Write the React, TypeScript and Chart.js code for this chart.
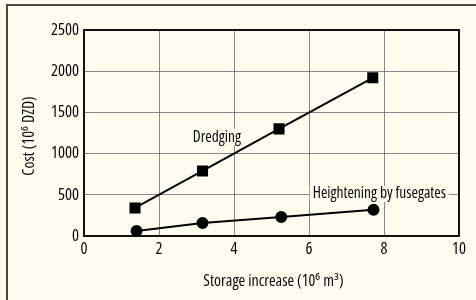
import React, { useEffect, useRef } from "react";
import { Chart, registerables } from "chart.js";

Chart.register(...registerables);

const storageDredging = [1.36, 3.16, 5.2, 7.7];
const costDredging = [340, 790, 1300, 1920];
const storageFusegates = [1.4, 3.16, 5.26, 7.72];
const costFusegates = [60, 158, 232, 318];
const xTicks = [0, 2, 4, 6, 8, 10];
const yTicks = [0, 500, 1000, 1500, 2000, 2500];
const seriesLabels = ["Dredging", "Heightening by fusegates"];
const labelAnchors = [
  { x: 2.9, y: 1200 },
  { x: 6.1, y: 510 },
];
const xTitle = "Storage increase (10⁶ m³)";
const yTitle = "Cost (10⁶ DZD)";

const FONT = '"Open Sans", sans-serif';
const BG = "#fffbef";
const INK = "#0a0a0a";

const framePlugin = {
  id: "frame",
  beforeDraw(chart: any) {
    const { ctx, width, height } = chart;
    ctx.fontStretch = "condensed";
    ctx.save();
    ctx.fillStyle = BG;
    ctx.fillRect(0, 0, width, height);
    ctx.strokeStyle = "#4a4a4a";
    ctx.lineWidth = 2;
    ctx.beginPath();
    ctx.moveTo(7, height);
    ctx.lineTo(7, 5);
    ctx.lineTo(width, 5);
    ctx.stroke();
    ctx.restore();
  },
  beforeDatasetsDraw(chart: any) {
    const { ctx, chartArea, scales } = chart;
    ctx.save();
    ctx.strokeStyle = "#111";
    ctx.lineWidth = 2;
    ctx.strokeRect(chartArea.left, chartArea.top, chartArea.right - chartArea.left, chartArea.bottom - chartArea.top);
    ctx.font = `15.5px ${FONT}`;
    ctx.fontStretch = "condensed";
    ctx.textBaseline = "middle";
    ctx.textAlign = "left";
    seriesLabels.forEach((t, i) => {
      const px = scales.x.getPixelForValue(labelAnchors[i].x);
      const py = scales.y.getPixelForValue(labelAnchors[i].y);
      const w = ctx.measureText(t).width;
      ctx.fillStyle = BG;
      ctx.fillRect(px - 3, py - 8, w + 6, 16);
      ctx.fillStyle = INK;
      ctx.fillText(t, px, py);
    });
    ctx.restore();
  },
  afterDraw(chart: any) {
    const { ctx, chartArea } = chart;
    ctx.save();
    ctx.font = `16px ${FONT}`;
    ctx.fontStretch = "condensed";
    ctx.fillStyle = INK;
    ctx.textAlign = "center";
    ctx.textBaseline = "middle";
    ctx.fillText(xTitle, (chartArea.left + chartArea.right) / 2 + 2, 281);
    ctx.translate(29, (chartArea.top + chartArea.bottom) / 2 + 3);
    ctx.rotate(-Math.PI / 2);
    ctx.fillText(yTitle, 0, 0);
    ctx.restore();
  },
};

const fnt = (size: number) => ({ family: FONT, size });

export default function App() {
  const ref = useRef<HTMLCanvasElement>(null);
  useEffect(() => {
    document.body.style.margin = "0";
    const chart = new Chart(ref.current!, {
      type: "scatter",
      data: {
        datasets: [
          {
            label: seriesLabels[0],
            data: storageDredging.map((x, i) => ({ x, y: costDredging[i] })),
            showLine: true,
            borderColor: "#000",
            backgroundColor: "#000",
            borderWidth: 2,
            pointStyle: "rect",
            pointRadius: 6.4,
            pointHoverRadius: 6.4,
          },
          {
            label: seriesLabels[1],
            data: storageFusegates.map((x, i) => ({ x, y: costFusegates[i] })),
            showLine: true,
            borderColor: "#000",
            backgroundColor: "#000",
            borderWidth: 2,
            pointStyle: "circle",
            pointRadius: 5,
            pointHoverRadius: 5,
          },
        ],
      },
      options: {
        animation: false,
        responsive: false,
        layout: { padding: { left: 0, top: 30, right: 17, bottom: 0 } },
        plugins: { legend: { display: false }, tooltip: { enabled: false } },
        scales: {
          x: {
            type: "linear",
            min: 0,
            max: 10,
            afterBuildTicks: (s: any) => {
              s.ticks = xTicks.map((v) => ({ value: v }));
            },
            afterFit: (s: any) => {
              s.height = 64;
            },
            ticks: { color: INK, padding: 3, font: fnt(16.5), callback: (v: any) => String(v) },
            grid: { color: "#6a6a6a", lineWidth: 0.8, drawTicks: false },
            border: { display: false },
            title: { display: false },
          },
          y: {
            type: "linear",
            min: 0,
            max: 2500,
            afterBuildTicks: (s: any) => {
              s.ticks = yTicks.map((v) => ({ value: v }));
            },
            afterFit: (s: any) => {
              s.width = 84;
            },
            ticks: { color: INK, padding: 5, font: fnt(16.5), callback: (v: any) => String(v) },
            grid: { color: "#6a6a6a", lineWidth: 0.8, drawTicks: false },
            border: { display: false },
            title: { display: false },
          },
        },
      },
      plugins: [framePlugin],
    });
    return () => chart.destroy();
  }, []);
  return (
    <div style={{ width: 476, height: 300 }}>
      <canvas ref={ref} width={476} height={300} />
    </div>
  );
}
